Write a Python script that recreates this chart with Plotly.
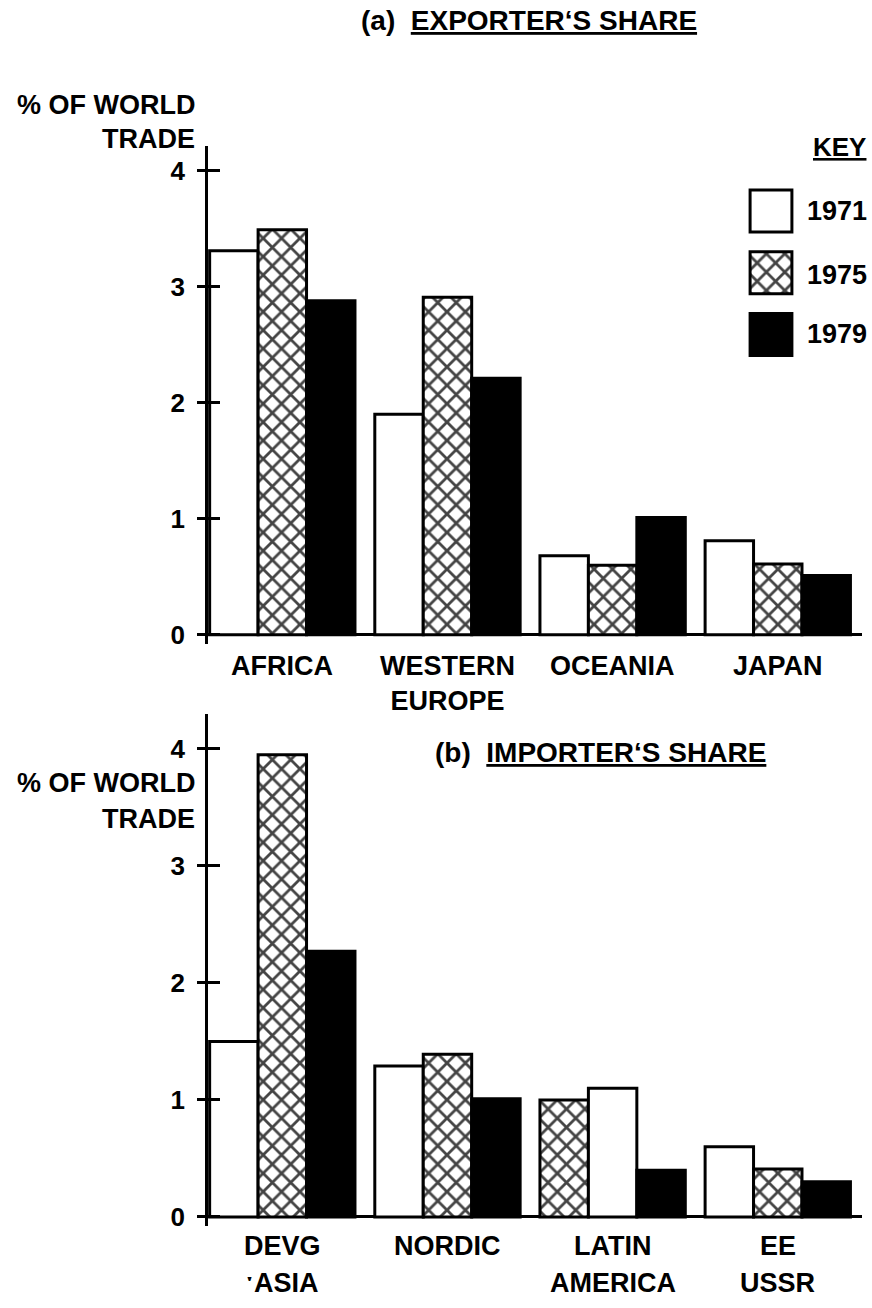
import plotly.graph_objects as go

# ---- data ---------------------------------------------------------------
years = ["1971", "1975", "1979"]

# (a) exporter's share, % of world trade
exp_regions = ["AFRICA", "WESTERN<br>EUROPE", "OCEANIA", "JAPAN"]
exp_1971 = [3.31, 1.90, 0.68, 0.81]
exp_1975 = [3.49, 2.91, 0.60, 0.61]
exp_1979 = [2.88, 2.21, 1.01, 0.51]
exp_order = [years, years, years, years]

# (b) importer's share, % of world trade
imp_regions_top = ["DEVG", "NORDIC", "LATIN", "EE"]
imp_regions_bottom = ["\u02d1ASIA", "", "AMERICA", "USSR"]
imp_1971 = [1.50, 1.29, 1.10, 0.60]
imp_1975 = [3.95, 1.39, 1.00, 0.41]
imp_1979 = [2.27, 1.01, 0.40, 0.30]
# bar order inside each group (Latin America is drawn hatched bar first)
imp_order = [years, years, ["1975", "1971", "1979"], years]

y_ticks = [0, 1, 2, 3, 4]

# ---- styling ------------------------------------------------------------
FONT = "Liberation Sans, Arial, sans-serif"
INK = "black"
W, H = 872, 1308
TXT = 27
WT = "bold"

year_style = {
    "1971": dict(color="white", shape=""),
    "1975": dict(color="white", shape="x"),
    "1979": dict(color=INK, shape=""),
}
HATCH = dict(fgcolor=INK, fgopacity=1, size=13, solidity=0.38)


def px_x(p):
    return p / W


def px_y(p):
    return 1 - p / H


fig = go.Figure()


def add_panel(series, order, xa, ya):
    for slot in range(3):
        vals, colors, shapes = [], [], []
        for i, grp in enumerate(order):
            yr = grp[slot]
            vals.append(series[yr][i])
            colors.append(year_style[yr]["color"])
            shapes.append(year_style[yr]["shape"])
        fig.add_trace(go.Bar(
            x=list(range(len(order))), y=vals,
            xaxis=xa, yaxis=ya, offsetgroup=str(slot),
            marker=dict(color=colors, line=dict(color=INK, width=3),
                        pattern=dict(shape=shapes, **HATCH)),
            showlegend=False, hoverinfo="skip",
        ))


add_panel({"1971": exp_1971, "1975": exp_1975, "1979": exp_1979},
          exp_order, "x", "y")
add_panel({"1971": imp_1971, "1975": imp_1975, "1979": imp_1979},
          imp_order, "x2", "y2")

# key swatches
fig.add_trace(go.Bar(
    x=[1, 1, 1], y=[0, 1, 2], base=0, orientation="h", width=0.68,
    xaxis="x3", yaxis="y3",
    marker=dict(color=[year_style[y]["color"] for y in years],
                line=dict(color=INK, width=3),
                pattern=dict(shape=[year_style[y]["shape"] for y in years],
                             **HATCH)),
    showlegend=False, hoverinfo="skip",
))

# empty traces so the inner-tick overlay axes are drawn
fig.add_trace(go.Scatter(x=[None], y=[None], xaxis="x", yaxis="y4",
                         showlegend=False, hoverinfo="skip"))
fig.add_trace(go.Scatter(x=[None], y=[None], xaxis="x2", yaxis="y5",
                         showlegend=False, hoverinfo="skip"))

x_dom = [px_x(208), px_x(862)]
x_rng = [-0.45, 3.51]
top_dom = [px_y(647), px_y(147)]
top_rng = [-0.08, 4.21]
bot_dom = [px_y(1232), px_y(717)]
bot_rng = [-0.08, 4.3]

xcommon = dict(range=x_rng, domain=x_dom, showticklabels=False,
               showline=False, showgrid=False, zeroline=False, ticks="",
               fixedrange=True)
ycommon = dict(showline=True, linecolor=INK, linewidth=2.5, showgrid=False,
               zeroline=True, zerolinecolor=INK, zerolinewidth=3,
               ticks="outside", ticklen=8, tickwidth=2.5, tickcolor=INK,
               tickvals=y_ticks,
               tickfont=dict(size=26, color=INK, weight=WT),
               ticklabelstandoff=7, fixedrange=True)
inner = dict(showline=False, showgrid=False, zeroline=False, ticks="inside",
             ticklen=12, tickwidth=2.5, tickcolor=INK, tickvals=y_ticks,
             showticklabels=False, side="left", fixedrange=True)

fig.update_layout(
    width=W, height=H,
    margin=dict(l=0, r=0, t=0, b=0),
    paper_bgcolor="white", plot_bgcolor="rgba(0,0,0,0)",
    font=dict(family=FONT, color=INK, size=TXT, weight=WT),
    barmode="group", bargap=0.12, bargroupgap=0,
    showlegend=False,
    xaxis=dict(**xcommon, anchor="y"),
    yaxis=dict(**ycommon, domain=top_dom, range=top_rng, anchor="x"),
    xaxis2=dict(**xcommon, anchor="y2"),
    yaxis2=dict(**ycommon, domain=bot_dom, range=bot_rng, anchor="x2"),
    xaxis3=dict(domain=[px_x(748), px_x(794)], range=[-0.05, 1.05],
                visible=False, anchor="y3", fixedrange=True),
    yaxis3=dict(domain=[px_y(367), px_y(181)], range=[2.5, -0.5],
                visible=False, anchor="x3", fixedrange=True),
    yaxis4=dict(**inner, overlaying="y", anchor="x", range=top_rng),
    yaxis5=dict(**inner, overlaying="y2", anchor="x2", range=bot_rng),
)

ann = []
UL = ("<span style='text-decoration:underline;"
      "text-decoration-thickness:3px'>%s</span>")


def note(text, px, py, xanchor="center", size=TXT, **kw):
    ann.append(dict(text=text, x=px_x(px), y=px_y(py), xref="paper",
                    yref="paper", xanchor=xanchor, yanchor="middle",
                    showarrow=False, font=dict(size=size, weight=WT), **kw))


# panel titles
note("(a)\u00a0\u00a0" + UL % "EXPORTER\u2018S SHARE", 529, 21, size=28)
note("(b)\u00a0\u00a0" + UL % "IMPORTER\u2018S SHARE", 600, 756, size=28)

# y-axis titles
for txt, py in [("% OF WORLD", 105), ("TRADE", 140),
                ("% OF WORLD", 787), ("TRADE", 823)]:
    note(txt, 197, py, xanchor="right", size=27)

# category labels
for i, name in enumerate(exp_regions):
    ann.append(dict(text=name, x=i, xref="x", y=px_y(652), yref="paper",
                    xanchor="center", yanchor="top", showarrow=False,
                    font=dict(size=TXT, weight=WT)))
for i, (a, b) in enumerate(zip(imp_regions_top, imp_regions_bottom)):
    ann.append(dict(text=a, x=i, xref="x2", y=px_y(1252), yref="paper",
                    xanchor="center", yanchor="middle", showarrow=False,
                    font=dict(size=TXT, weight=WT)))
    if b:
        ann.append(dict(text=b, x=i, xref="x2", y=px_y(1289), yref="paper",
                        xanchor="center", yanchor="middle",
                        showarrow=False, font=dict(size=TXT, weight=WT)))

# key
note(UL % "KEY", 868, 148, xanchor="right", size=26)
for yr, py in zip(years, [212, 276, 336]):
    note(yr, 805, py, xanchor="left", size=27)

fig.update_layout(annotations=ann)

fig.write_html("out.html", include_plotlyjs=True)
